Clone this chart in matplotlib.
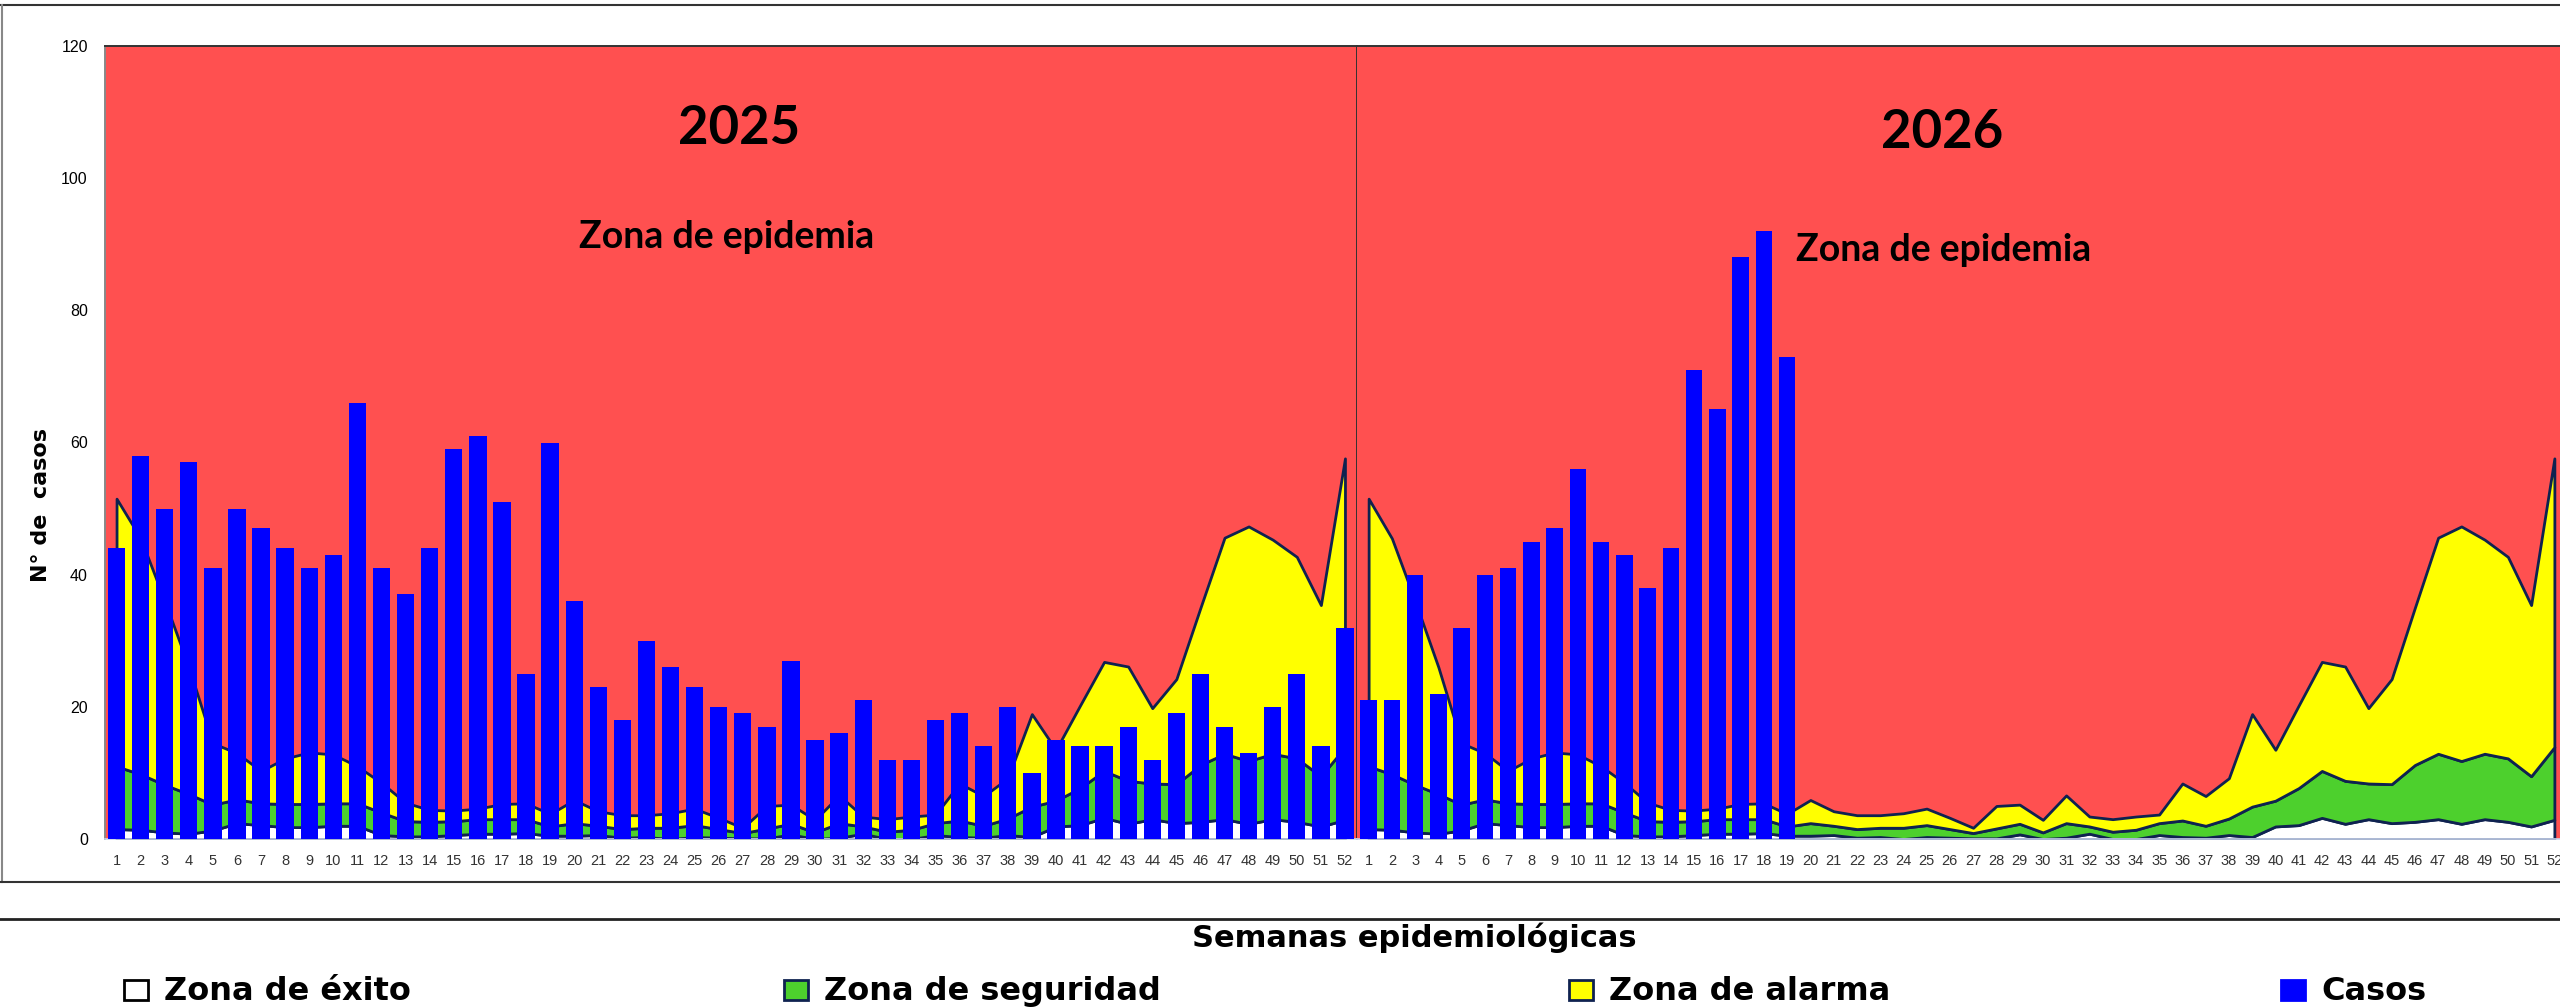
import matplotlib
matplotlib.use("Agg")
import matplotlib.pyplot as plt
from matplotlib.lines import Line2D
from matplotlib.patches import Rectangle

# semanas epidemiologicas
weeks = list(range(1, 53))

# casos notificados
casos_2025 = [44, 58, 50, 57, 41, 50, 47, 44, 41, 43, 66, 41, 37, 44, 59, 61, 51, 25, 60, 36,
              23, 18, 30, 26, 23, 20, 19, 17, 27, 15, 16, 21, 12, 12, 18, 19, 14, 20, 10, 15,
              14, 14, 17, 12, 19, 25, 17, 13, 20, 25, 14, 32]
casos_2026 = [21, 21, 40, 22, 32, 40, 41, 45, 47, 56, 45, 43, 38, 44, 71, 65, 88, 92, 73]

# canal endemico (limite superior de cada zona)
exito = [1.5, 1.4, 1.0, 0.8, 1.3, 2.4, 2.1, 1.8, 1.8, 2.0, 2.0, 0.6, 0.4, 0.4, 0.6, 0.8, 0.8, 0.9,
         0.5, 0.5, 0.6, 0.2, 0.3, 0.0, 0.3, 0.2, 0.1, 0.1, 0.7, 0.0, 0.2, 0.8, 0.0, 0.0, 0.6, 0.3,
         0.2, 0.6, 0.3, 1.9, 2.1, 3.2, 2.3, 3.0, 2.4, 2.6, 3.0, 2.3, 3.0, 2.6, 1.9, 2.9]
seguridad = [11, 9.8, 8.2, 6.8, 5.2, 6.0, 5.4, 5.3, 5.3, 5.4, 5.4, 4.0, 2.7, 2.6, 2.7, 3.0, 3.0,
             3.0, 1.9, 2.4, 2.0, 1.5, 1.7, 1.7, 2.1, 1.5, 0.9, 1.6, 2.3, 1.0, 2.4, 1.9, 1.1, 1.4,
             2.4, 2.8, 2.0, 3.1, 4.9, 5.8, 7.7, 10.3, 8.8, 8.4, 8.3, 11.2, 12.9, 11.8, 12.9, 12.2,
             9.5, 13.9]
alarma = [51.5, 45.5, 36, 26, 14.5, 13, 10.3, 12.2, 13.1, 12.8, 11, 8.5, 5.5, 4.4, 4.3, 4.6, 5.3,
          5.4, 3.8, 5.9, 4.2, 3.6, 3.6, 3.9, 4.6, 3.2, 1.7, 5.0, 5.2, 2.9, 6.6, 3.4, 3.0, 3.4,
          3.7, 8.4, 6.5, 9.2, 18.9, 13.5, 20.2, 26.8, 26.1, 19.8, 24.2, 35, 45.6, 47.3, 45.3,
          42.7, 35.4, 57.6]

RED = "#FF5050"
GREEN = "#4DD02D"
YELLOW = "#FFFF00"
BLUE = "#0000FF"
NAVY = "#0F2250"
TITLE_FONT = ["Lato", "DejaVu Sans"]
TICK_FONT = ["Liberation Sans", "DejaVu Sans"]

fig = plt.figure(figsize=(25.6, 10.07), dpi=100)
W, H = 2560, 1007
ax1 = fig.add_axes([104.5 / W, 168 / H, (1357 - 104.5) / W, 793 / H])
ax2 = fig.add_axes([1357 / W, 168 / H, (2566 - 1357) / W, 793 / H])


def draw_year(ax, casos, year, tx, ty, zx, zy):
    x = list(range(52))
    ax.set_facecolor(RED)
    ax.fill_between(x, 0, exito, facecolor="white", edgecolor=NAVY, linewidth=2, zorder=2)
    ax.fill_between(x, exito, seguridad, facecolor=GREEN, edgecolor=NAVY, linewidth=2, zorder=2)
    ax.fill_between(x, seguridad, alarma, facecolor=YELLOW, edgecolor=NAVY, linewidth=2, zorder=2)
    ax.bar(range(len(casos)), casos, width=0.72, color=BLUE, zorder=3)
    ax.set_xlim(-0.5, 51.5)
    ax.set_ylim(0, 120)
    ax.set_xticks(x)
    ax.set_xticklabels([str(w) for w in weeks], family=TICK_FONT, fontsize=10.5, color="#333333")
    ax.tick_params(axis="x", length=0, pad=11)
    ax.text(tx, ty, year, transform=ax.transAxes, ha="center", va="baseline",
            fontsize=38, fontweight="bold", family=TITLE_FONT)
    ax.text(zx, zy, "Zona de epidemia", transform=ax.transAxes,
            ha="center", va="baseline", fontsize=27, fontweight="bold", family=TITLE_FONT)
    for s in ["top", "right", "left"]:
        ax.spines[s].set_color("#333333")
        ax.spines[s].set_linewidth(1.4)
    ax.spines["bottom"].set_color("#C8D4EC")
    ax.spines["bottom"].set_linewidth(1.2)


draw_year(ax1, casos_2025, "2025", 0.507, 0.877, 0.497, 0.745)
draw_year(ax2, casos_2026, "2026", 0.484, 0.871, 0.485, 0.729)

ax1.set_yticks(range(0, 121, 20))
ax1.set_yticklabels([str(v) for v in range(0, 121, 20)], family=TICK_FONT, fontsize=11.5)
ax1.tick_params(axis="y", length=0, pad=12)
ax1.spines["left"].set_color("#888888")
ax2.tick_params(axis="y", left=False, labelleft=False)
ax2.spines["left"].set_visible(False)

fig.text(41 / W, 1 - 505 / H, "N° de  casos", rotation=90, ha="center", va="center",
         fontsize=16, fontweight="bold", family="DejaVu Sans")

# marco
fig.add_artist(Line2D([0, 1], [1 - 5 / H, 1 - 5 / H], color="#333333", lw=1.5))
fig.add_artist(Line2D([1.5 / W, 1.5 / W], [1 - 882 / H, 1 - 5 / H], color="#888888", lw=1.5))
fig.add_artist(Line2D([0, 1], [1 - 882 / H, 1 - 882 / H], color="#333333", lw=1.5))
fig.add_artist(Line2D([0, 1], [1 - 919 / H, 1 - 919 / H], color="#222222", lw=2))

fig.text(1414 / W, 1 - 947 / H, "Semanas epidemiológicas", ha="center", va="baseline",
         fontsize=22, fontweight="bold", family="DejaVu Sans")

# leyenda
legend_items = [("Zona de éxito", "white", "black", 124),
                ("Zona de seguridad", GREEN, NAVY, 784),
                ("Zona de alarma", YELLOW, NAVY, 1569),
                ("Casos", BLUE, BLUE, 2281)]
for label, face, edge, px in legend_items:
    fig.add_artist(Rectangle((px / W, 1 - 1000 / H), 24 / W, 20 / H, transform=fig.transFigure,
                             facecolor=face, edgecolor=edge, linewidth=2))
    fig.text((px + 40) / W, 1 - 1000 / H, label, ha="left", va="baseline",
             fontsize=23, fontweight="bold", family="DejaVu Sans")

fig.savefig("out.png", dpi=100, facecolor="white")
